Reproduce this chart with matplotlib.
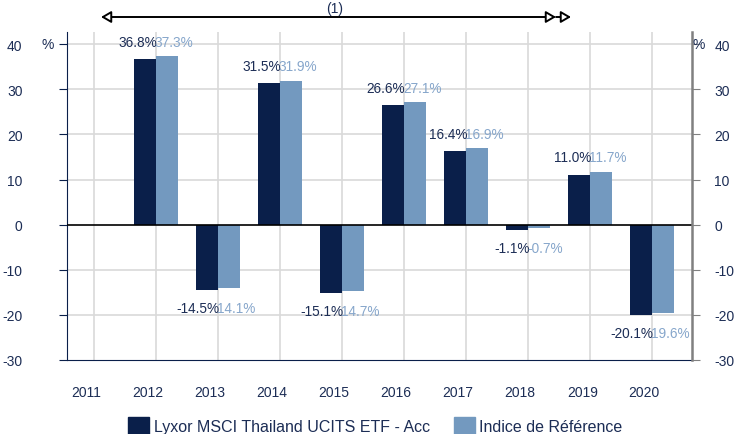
import matplotlib
matplotlib.use("Agg")
from matplotlib import pyplot as plt
from matplotlib.patches import FancyArrowPatch
import numpy as np

plt.rcParams['font.family'] = ['Liberation Sans', 'DejaVu Sans']

years = ["2011", "2012", "2013", "2014", "2015", "2016", "2017", "2018", "2019", "2020"]
fund = [None, 36.8, -14.5, 31.5, -15.1, 26.6, 16.4, -1.1, 11.0, -20.1]
index = [None, 37.3, -14.1, 31.9, -14.7, 27.1, 16.9, -0.7, 11.7, -19.6]
fund_labels = ["", "36.8%", "-14.5%", "31.5%", "-15.1%", "26.6%", "16.4%", "-1.1%", "11.0%", "-20.1%"]
index_labels = ["", "37.3%", "14.1%", "31.9%", "14.7%", "27.1%", "16.9%", "-0.7%", "11.7%", "19.6%"]
yticks = [40, 30, 20, 10, 0, -10, -20, -30]

dark = "#0a1f4a"
light = "#7399bf"
dark_txt = "#1c2d55"
light_txt = "#86a6cb"

fig = plt.figure(figsize=(7.36, 4.35), dpi=100)
ax = fig.add_axes([67 / 736, 1 - 361 / 435, (692 - 67) / 736, (361 - 33) / 435])

x = np.arange(len(years))
w = 0.354
for i in x:
    if fund[i] is None:
        continue
    ax.bar(i - w / 2, fund[i], w, color=dark, zorder=3)
    ax.bar(i + w / 2, index[i], w, color=light, zorder=3)
    top = max(fund[i], index[i])
    bot = min(fund[i], index[i])
    if fund[i] >= 0:
        yl = top + 3.2
    else:
        yl = bot - 4.0
    ax.text(i + 0.02, yl, fund_labels[i], ha='right', va='center', fontsize=9.8, color=dark_txt, zorder=4)
    ax.text(i - 0.02, yl, index_labels[i], ha='left', va='center', fontsize=9.8, color=light_txt, zorder=4)

ax.set_xlim(-0.435, 9.64)
ax.set_ylim(-30, 42.7)
ax.set_yticks(yticks)
ax.set_yticklabels([str(v) for v in yticks])
ax.set_xticks(x - 0.13)
ax.set_xticklabels(years)
ax.tick_params(axis='x', length=0, pad=18, labelsize=10, labelcolor=dark_txt)
ax.tick_params(axis='y', length=6, pad=26, labelsize=10, labelcolor=dark_txt, color=dark)

# grid
for v in yticks:
    if v not in (0, -30):
        ax.axhline(v, color='#d9d9d9', lw=1.2, zorder=1)
for i in x:
    ax.axvline(i, color='#d9d9d9', lw=1.2, zorder=1)
ax.axhline(0, color='black', lw=1.2, zorder=5)

ax.spines['top'].set_visible(False)
ax.spines['left'].set_color(dark)
ax.spines['bottom'].set_color(dark)
ax.spines['right'].set_visible(False)

ax2 = ax.twinx()
ax2.set_ylim(ax.get_ylim())
ax2.set_yticks(yticks)
ax2.set_yticklabels([str(v) for v in yticks])
ax2.tick_params(axis='y', length=6, pad=10, labelsize=10, labelcolor=dark_txt, color='#808080')
for s in ['top', 'left', 'bottom']:
    ax2.spines[s].set_visible(False)
ax2.spines['right'].set_color('#808080')
ax2.spines['right'].set_linewidth(1.8)

fig.text(48 / 736, 1 - 45 / 435, "%", ha='center', va='center', fontsize=10, color=dark_txt)
fig.text(699 / 736, 1 - 45 / 435, "%", ha='center', va='center', fontsize=10, color=dark_txt)

# period arrow at the top
ya = 1 - 18 / 435
fig.add_artist(FancyArrowPatch((101 / 736, ya), (556 / 736, ya), transform=fig.transFigure,
                               arrowstyle='<|-|>,head_length=6,head_width=3.5', lw=1.4,
                               fc='white', ec='black', shrinkA=0, shrinkB=0))
fig.add_artist(FancyArrowPatch((556 / 736, ya), (571 / 736, ya), transform=fig.transFigure,
                               arrowstyle='-|>,head_length=6,head_width=3.5', lw=1.4,
                               fc='white', ec='black', shrinkA=0, shrinkB=0))
fig.text(335 / 736, 1 - 2 / 435, "(1)", ha='center', va='top', fontsize=10, color=dark_txt)

handles = [plt.Rectangle((0, 0), 1, 1, color=dark), plt.Rectangle((0, 0), 1, 1, color=light)]
fig.legend(handles, ["Lyxor MSCI Thailand UCITS ETF - Acc", "Indice de Référence"],
           loc='lower center', bbox_to_anchor=(0.51, -0.035), ncol=2, frameon=False,
           fontsize=11.5, handlelength=1.3, handleheight=1.3, handletextpad=0.3,
           columnspacing=1.5, labelcolor=dark_txt)

fig.savefig("out.png", dpi=100)
